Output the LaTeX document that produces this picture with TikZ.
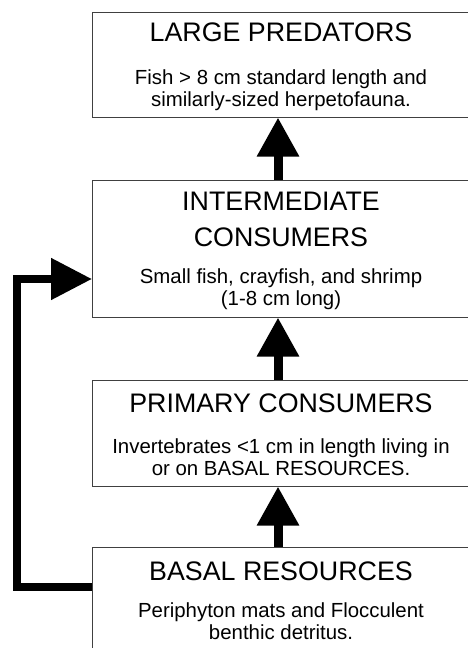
\documentclass[tikz,border=0pt]{standalone}
\usepackage{fontspec}
\setmainfont{Liberation Sans}
\usetikzlibrary{arrows.meta}
\tikzset{
  box/.style={draw=black!75, line width=1.3pt, fill=white, anchor=north west, minimum width=378pt, inner sep=0pt},
  ttl/.style={anchor=base, font=\fontsize{26.8}{30}\selectfont, inner sep=0pt},
  bdy/.style={anchor=base, font=\fontsize{20.4}{22}\selectfont, inner sep=0pt},
  uparrow/.style={line width=9pt, -{Triangle[width=40pt,length=39pt]}},
  fbarrow/.style={line width=8pt, line join=miter, -{Triangle[width=40pt,length=41pt]}},
}
\begin{document}
\begin{tikzpicture}[x=1pt,y=-1pt]
\useasboundingbox (0,0) rectangle (468,648);
% boxes
\node[box, minimum height=105pt] (b1) at (92,12) {};
\node[box, minimum height=137pt] (b2) at (92,180) {};
\node[box, minimum height=106pt] (b3) at (92,380) {};
\node[box, minimum height=120pt] (b4) at (92,547) {};
% texts
\node[ttl] (t1) at (281,41.5) {LARGE PREDATORS};
\node[bdy] (d1a) at (281,84) {Fish > 8 cm standard length and};
\node[bdy] (d1b) at (281,106) {similarly-sized herpetofauna.};
\node[ttl] (t2a) at (281,210) {INTERMEDIATE};
\node[ttl] (t2b) at (281,246) {CONSUMERS};
\node[bdy] (d2a) at (281,283) {Small fish, crayfish, and shrimp};
\node[bdy] (d2b) at (281,305) {(1-8 cm long)};
\node[ttl] (t3) at (281,412) {PRIMARY CONSUMERS};
\node[bdy] (d3a) at (281,453) {Invertebrates <1 cm in length living in};
\node[bdy] (d3b) at (281,475) {or on BASAL RESOURCES.};
\node[ttl] (t4) at (281,580) {BASAL RESOURCES};
\node[bdy] (d4a) at (281,617) {Periphyton mats and Flocculent};
\node[bdy] (d4b) at (281,639) {benthic detritus.};
% vertical arrows
\coordinate (a1s) at (278,180);
\coordinate (a1e) at (278,117.5);
\coordinate (a2s) at (278,380);
\coordinate (a2e) at (278,317.5);
\coordinate (a3s) at (278,547);
\coordinate (a3e) at (278,486.5);
\draw[uparrow] (a1s) -- (a1e);
\draw[uparrow] (a2s) -- (a2e);
\draw[uparrow] (a3s) -- (a3e);
% feedback arrow
\coordinate (fbs) at (b4.west |- 0,587);
\coordinate (fbc) at (17,587);
\coordinate (fbe) at (b2.west |- 0,279);
\draw[fbarrow] (fbs) -- (fbc) |- (fbe);
\end{tikzpicture}
\end{document}
